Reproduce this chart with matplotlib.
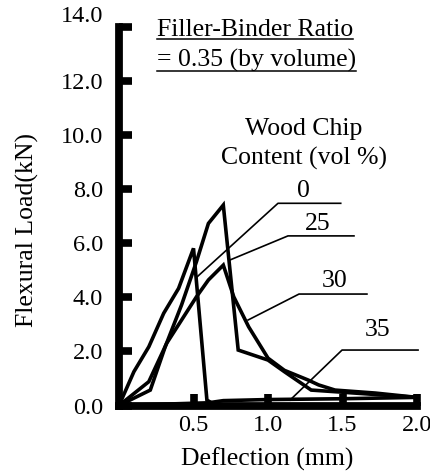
import numpy as np
import matplotlib
matplotlib.use('Agg')
import matplotlib.pyplot as plt
from matplotlib.lines import Line2D

plt.rcParams['font.family'] = 'Liberation Serif'

# flexural load vs deflection, filler-binder ratio 0.35
defl_0 = [0.0, 0.10, 0.20, 0.30, 0.40, 0.50, 0.59, 0.62]
load_0 = [0.0, 1.25, 2.17, 3.41, 4.33, 5.81, 0.20, 0.10]

defl_25 = [0.0, 0.21, 0.31, 0.42, 0.52, 0.60, 0.70, 0.80, 1.00, 1.11, 1.29, 1.45, 2.0]
load_25 = [0.0, 0.57, 2.17, 3.72, 5.32, 6.73, 7.41, 2.05, 1.68, 1.25, 0.57, 0.51, 0.30]

defl_30 = [0.0, 0.20, 0.32, 0.52, 0.60, 0.70, 0.77, 0.87, 1.00, 1.11, 1.27, 1.34, 1.45, 1.72, 2.0]
load_30 = [0.0, 0.88, 2.30, 4.02, 4.64, 5.19, 4.02, 2.91, 1.75, 1.30, 0.94, 0.76, 0.57, 0.46, 0.30]

defl_35 = [0.0, 0.30, 0.60, 0.70, 1.00, 1.50, 2.0]
load_35 = [0.0, 0.05, 0.10, 0.18, 0.22, 0.25, 0.30]

curve_labels = ['0', '25', '30', '35']
# where each leader line touches its curve, and where its label sits
leader_tip_x = [0.523, 0.745, 0.866, 1.148]
leader_tip_y = [4.75, 5.38, 3.16, 0.20]
shelf_x0 = [1.067, 1.134, 1.208, 1.497]
shelf_x1 = [1.488, 1.577, 1.664, 2.007]
shelf_y = [7.475, 6.27, 4.12, 2.05]
label_x = [1.238, 1.332, 1.446, 1.732]
label_y = [7.93, 6.71, 4.60, 2.79]

yticks = np.arange(0, 15, 2)
xticks = [0.5, 1.0, 1.5, 2.0]

fig = plt.figure(figsize=(4.3, 4.71), dpi=100)
ax = fig.add_axes([119/430, 1 - 405.5/471, 298/430, 378.7/471])

for x, y in [(defl_0, load_0), (defl_25, load_25), (defl_30, load_30), (defl_35, load_35)]:
    ax.plot(x, y, color='black', lw=2.6, solid_joinstyle='miter', clip_on=False)

for i, lab in enumerate(curve_labels):
    ax.plot([leader_tip_x[i], shelf_x0[i], shelf_x1[i]],
            [leader_tip_y[i], shelf_y[i], shelf_y[i]],
            color='black', lw=1.2, clip_on=False)
    ax.text(label_x[i], label_y[i], lab, ha='center', va='center', fontsize=18.5)

ax.text(1.242, 10.0, 'Wood Chip', ha='center', va='baseline', fontsize=18.5)
ax.text(1.242, 8.89, 'Content (vol %)', ha='center', va='baseline', fontsize=18.5)

ax.set_xlim(0, 2.0)
ax.set_ylim(0, 14)
ax.set_xticks(xticks)
ax.set_xticklabels(['%.1f' % v for v in xticks])
ax.set_yticks(yticks)
ax.set_yticklabels(['%.1f' % v for v in yticks])
for s in ['top', 'right']:
    ax.spines[s].set_visible(False)
for s in ['left', 'bottom']:
    ax.spines[s].set_linewidth(5.6)
ax.tick_params(axis='both', direction='in', length=9, width=5.5, labelsize=17.5)
ax.tick_params(axis='y', pad=11.5)
ax.tick_params(axis='x', pad=7)
# top label sits a little above its tick
ax.get_yticklabels()[-1].set_va('bottom')

fig.text(27/430, 1 - 230/471, 'Flexural Load(kN)', rotation=90,
         ha='center', va='center', fontsize=18.5)
fig.text(267/430, 1 - 459/471, 'Deflection (mm)', ha='center', va='center', fontsize=18.5)

t1 = fig.text(157/430, 1 - 35.7/471, 'Filler-Binder Ratio', ha='left', va='baseline', fontsize=18.5)
t2 = fig.text(157/430, 1 - 66.7/471, '= 0.35 (by volume)', ha='left', va='baseline', fontsize=18.5)

# underline the two header lines
fig.canvas.draw()
r = fig.canvas.get_renderer()
W, H = fig.bbox.width, fig.bbox.height
for t, yy in [(t1, 38.5), (t2, 71)]:
    bb = t.get_window_extent(r)
    fig.add_artist(Line2D([bb.x0/W, bb.x1/W], [1 - yy/471, 1 - yy/471],
                          transform=fig.transFigure, color='black', lw=1.1))

fig.savefig('out.png', dpi=100)
